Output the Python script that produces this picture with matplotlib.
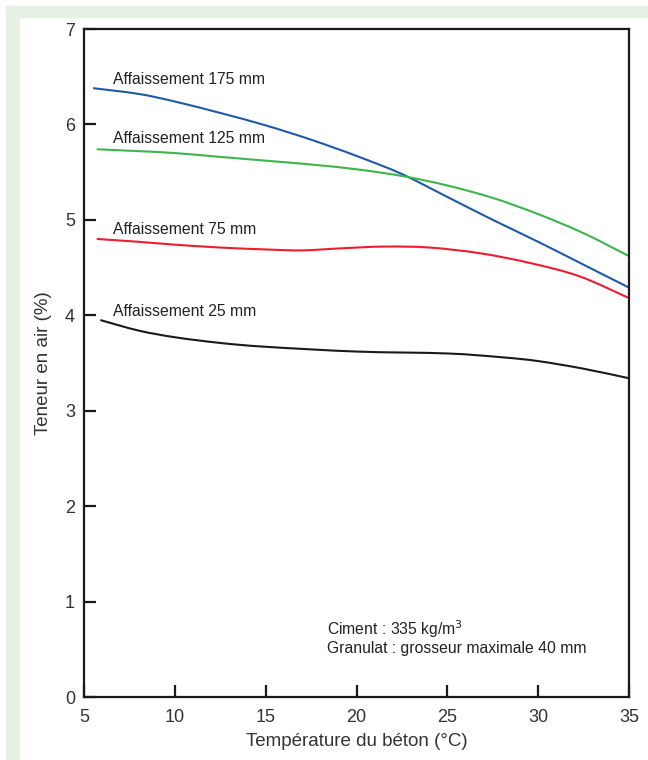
import matplotlib
matplotlib.use("Agg")
import matplotlib.pyplot as plt
from matplotlib.patches import Rectangle, PathPatch
from matplotlib.path import Path

plt.rcParams['font.family'] = ['Liberation Sans', 'DejaVu Sans']

# Data
x175 = [5.5, 8, 10, 12.5, 15, 17.5, 20, 22.5, 25, 27.5, 30, 32.5, 35]
y175 = [6.38, 6.32, 6.24, 6.12, 5.99, 5.84, 5.67, 5.48, 5.24, 5.00, 4.77, 4.53, 4.29]

x125 = [5.7, 8, 10, 12.5, 15, 17.5, 20, 22.5, 25, 27.5, 30, 32.5, 35]
y125 = [5.74, 5.72, 5.70, 5.66, 5.62, 5.58, 5.53, 5.46, 5.36, 5.23, 5.06, 4.86, 4.62]

x75 = [5.7, 8, 10, 12.5, 15, 17, 19, 21.5, 24, 26.8, 29.5, 32.25, 35]
y75 = [4.80, 4.77, 4.74, 4.71, 4.69, 4.68, 4.70, 4.72, 4.71, 4.65, 4.55, 4.41, 4.18]

x25 = [5.9, 8, 10, 12.5, 15, 20, 25, 28, 30, 32.5, 35]
y25 = [3.95, 3.84, 3.77, 3.71, 3.67, 3.62, 3.60, 3.56, 3.52, 3.44, 3.34]

series_labels = ["Affaissement 175 mm", "Affaissement 125 mm",
                 "Affaissement 75 mm", "Affaissement 25 mm"]
label_y = [6.47, 5.855, 4.90, 4.04]
label_x = 6.6

xticks = [5, 10, 15, 20, 25, 30, 35]
yticks = [0, 1, 2, 3, 4, 5, 6, 7]

note_lines = ["Ciment : 335 kg/m$^3$", "Granulat : grosseur maximale 40 mm"]


def smooth_path(xs, ys):
    """Catmull-Rom curve through the read points, as cubic Bezier segments."""
    pts = list(zip(xs, ys))
    verts = [pts[0]]
    codes = [Path.MOVETO]
    n = len(pts)
    for i in range(n - 1):
        p0 = pts[i - 1] if i > 0 else pts[i]
        p1 = pts[i]
        p2 = pts[i + 1]
        p3 = pts[i + 2] if i + 2 < n else pts[i + 1]
        c1 = (p1[0] + (p2[0] - p0[0]) / 6, p1[1] + (p2[1] - p0[1]) / 6)
        c2 = (p2[0] - (p3[0] - p1[0]) / 6, p2[1] - (p3[1] - p1[1]) / 6)
        verts += [c1, c2, p2]
        codes += [Path.CURVE4] * 3
    return Path(verts, codes)


fig = plt.figure(figsize=(6.48, 7.6), dpi=100)
fig.patch.set_facecolor('white')

W, H = 648, 760
green = '#e7f1e3'
fig.patches.append(Rectangle((6 / W, 1 - 17 / H), 1 - 6 / W, 11 / H,
                             transform=fig.transFigure, color=green, zorder=0))
fig.patches.append(Rectangle((6 / W, 0), 13 / W, 1 - 6 / H,
                             transform=fig.transFigure, color=green, zorder=0))

ax = fig.add_axes([84 / W, 1 - 697 / H, (629 - 84) / W, (697 - 29) / H])
ax.set_facecolor('white')

colors = ['#1f5aa6', '#3db54a', '#ed1c2e', '#1a1a1a']
for (xs, ys), c in zip([(x175, y175), (x125, y125), (x75, y75), (x25, y25)], colors):
    ax.add_patch(PathPatch(smooth_path(xs, ys), facecolor='none', edgecolor=c,
                           lw=1.5, capstyle='butt', transform=ax.transData))

for lab, ly in zip(series_labels, label_y):
    ax.text(label_x, ly, lab, fontsize=11.3, color='#222222', va='center', ha='left')

ax.text(18.4, 0.71, note_lines[0], fontsize=11.3, color='#222222', va='center', ha='left')
ax.text(18.4, 0.51, note_lines[1], fontsize=11.3, color='#222222', va='center', ha='left')

ax.set_xlim(5, 35)
ax.set_ylim(0, 7)
ax.set_xticks(xticks)
ax.set_yticks(yticks)
ax.tick_params(direction='in', length=8.5, width=1.6, color='#1a1a1a',
               labelsize=13, labelcolor='#333333', pad=6.5)
ax.tick_params(axis='x', pad=8.5)
for s in ax.spines.values():
    s.set_linewidth(1.6)
    s.set_color('#1a1a1a')

ax.set_xlabel("Température du béton (°C)", fontsize=13.5, color='#333333', labelpad=5)
ax.set_ylabel("Teneur en air (%)", fontsize=13.5, color='#333333', labelpad=9)

fig.savefig("out.png", dpi=100, facecolor=fig.get_facecolor())
